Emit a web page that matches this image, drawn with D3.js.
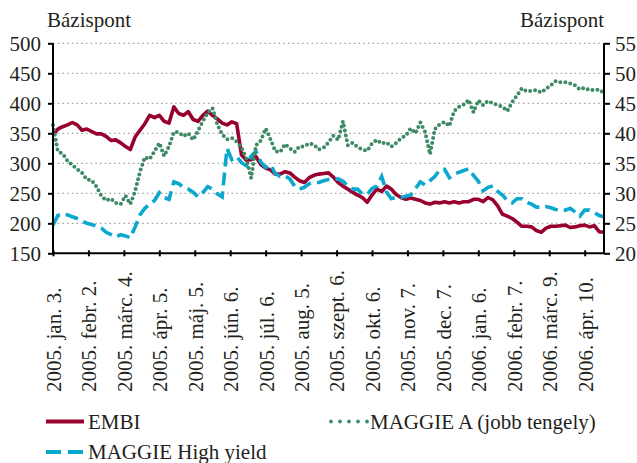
<!DOCTYPE html>
<html>
<head>
<meta charset="utf-8">
<script src="https://cdn.jsdelivr.net/npm/d3@7"></script>
<style>
body { margin: 0; background: #fff; }
svg { font-family: "Liberation Serif", "Times New Roman", serif; }
</style>
</head>
<body>
<div id="chart"></div>
<script>
var w = 637, h = 463;

// tick labels, one every 22 trading days
var tickLabels = ["2005. jan. 3.", "2005. febr. 2.", "2005. márc. 4.", "2005. ápr. 5.",
    "2005. máj. 5.", "2005. jún. 6.", "2005. júl. 6.", "2005. aug. 5.", "2005. szept. 6.",
    "2005. okt. 6.", "2005. nov. 7.", "2005. dec. 7.", "2006. jan. 6.", "2006. febr. 7.",
    "2006. márc. 9.", "2006. ápr. 10."];
var tickEvery = 22;
var lastDay = 342;
var step = 3; // values below are read every 3rd trading day

// EMBI, bázispont (left axis)
var embi = [347, 357, 361, 364, 368, 364, 355, 357, 353, 349,
    349, 345, 338, 339, 334, 328, 323, 344, 355, 366,
    380, 376, 380, 370, 367, 394, 383, 380, 386, 373,
    370, 380, 387, 380, 374, 367, 364, 369, 366, 314,
    305, 306, 311, 298, 292, 289, 282, 282, 286, 284,
    277, 271, 268, 276, 280, 282, 283, 284, 277, 268,
    262, 257, 252, 247, 243, 235, 247, 257, 253, 262,
    257, 248, 243, 240, 242, 240, 238, 234, 232, 235,
    234, 236, 234, 236, 234, 236, 236, 240, 240, 236,
    243, 239, 229, 215, 212, 208, 202, 195, 195, 194,
    188, 185, 192, 195, 195, 196, 197, 193, 194, 196,
    197, 194, 196, 186, 185];

// MAGGIE High yield, bázispont (left axis)
var maggieHY = [197, 213, 216, 214, 211, 208, 204, 200, 198, 195,
    192, 185, 181, 177, 181, 179, 176, 194, 214, 225,
    232, 238, 251, 243, 240, 269, 266, 260, 257, 252,
    244, 251, 261, 257, 249, 244, 325, 306, 311, 301,
    296, 312, 320, 302, 293, 298, 283, 278, 279, 274,
    262, 257, 260, 266, 268, 268, 271, 273, 273, 274,
    270, 262, 257, 257, 249, 248, 258, 262, 278, 252,
    241, 243, 243, 245, 247, 258, 269, 264, 271, 278,
    289, 290, 276, 282, 285, 288, 291, 280, 270, 254,
    260, 262, 253, 247, 238, 234, 241, 241, 235, 232,
    227, 227, 228, 226, 223, 222, 222, 225, 219, 212,
    222, 222, 218, 213, 211];

// MAGGIE A, bázispont (right axis)
var maggieA = [41.4, 37.0, 36.6, 35.4, 34.7, 34.0, 33.4, 32.3, 32.2, 31.1,
    29.6, 28.8, 29.1, 28.4, 28.2, 29.6, 28.2, 30.4, 33.6, 36.0,
    35.7, 37.0, 38.4, 36.2, 37.8, 40.2, 40.2, 39.5, 40.0, 38.9,
    40.4, 42.0, 43.4, 44.2, 41.5, 39.8, 39.0, 39.2, 38.6, 37.6,
    35.8, 32.5, 38.0, 38.8, 40.8, 39.0, 37.0, 36.9, 38.2, 37.5,
    36.9, 37.8, 37.8, 38.3, 38.1, 37.3, 37.6, 38.5, 39.6, 38.9,
    42.0, 38.0, 38.4, 37.7, 37.3, 37.1, 38.3, 38.9, 38.3, 38.5,
    37.8, 38.4, 39.2, 39.6, 40.8, 40.0, 41.8, 40.2, 36.5, 40.7,
    41.5, 41.9, 41.2, 43.7, 44.4, 44.8, 45.6, 43.5, 45.5, 44.7,
    45.4, 45.0, 44.7, 44.4, 43.7, 45.2, 46.3, 47.5, 47.0, 47.1,
    47.2, 46.8, 47.4, 48.0, 48.7, 48.5, 48.5, 48.3, 48.0, 47.3,
    47.6, 47.2, 47.2, 47.3, 46.7];

var leftTicks = [150, 200, 250, 300, 350, 400, 450, 500];
var rightTicks = [20, 25, 30, 35, 40, 45, 50, 55];

var plotL = 53, plotR = 604, plotT = 43.3, plotB = 253.3;
var textColor = "#231f20";

var svg = d3.select("#chart").append("svg")
    .attr("width", w)
    .attr("height", h);

var xScale = d3.scaleLinear().domain([0, lastDay]).range([plotL, plotR]);
var yLeft = d3.scaleLinear().domain([150, 500]).range([plotB, plotT]);
var yRight = d3.scaleLinear().domain([20, 55]).range([plotB, plotT]);

// dotted grid
svg.append("g")
    .selectAll("line")
    .data(leftTicks.slice(1))
    .enter()
    .append("line")
    .attr("x1", plotL)
    .attr("x2", plotR)
    .attr("y1", function(d) { return yLeft(d); })
    .attr("y2", function(d) { return yLeft(d); })
    .attr("stroke", "#8a8a8a")
    .attr("stroke-width", 1)
    .attr("stroke-dasharray", "1.5,3.2");

// series
function seriesLine(scale) {
    return d3.line()
        .x(function(d, i) { return xScale(i * step); })
        .y(function(d) { return scale(d); });
}

svg.append("path")
    .datum(embi)
    .attr("fill", "none")
    .attr("stroke", "#98002e")
    .attr("stroke-width", 3.6)
    .attr("stroke-linejoin", "round")
    .attr("d", seriesLine(yLeft));

svg.append("path")
    .datum(maggieHY)
    .attr("fill", "none")
    .attr("stroke", "#0aa8cf")
    .attr("stroke-width", 3.6)
    .attr("stroke-dasharray", "13,6")
    .attr("d", seriesLine(yLeft));

svg.append("path")
    .datum(maggieA)
    .attr("fill", "none")
    .attr("stroke", "#3f8a66")
    .attr("stroke-width", 4)
    .attr("stroke-linecap", "round")
    .attr("stroke-dasharray", "0,5")
    .attr("d", seriesLine(yRight));

// left axis
var leftAxis = svg.append("g")
    .attr("transform", "translate(" + plotL + ",0)")
    .call(d3.axisLeft(yLeft).tickValues(leftTicks).tickSize(5).tickPadding(7));

// right axis
var rightAxis = svg.append("g")
    .attr("transform", "translate(" + plotR + ",0)")
    .call(d3.axisRight(yRight).tickValues(rightTicks).tickSize(6).tickPadding(5));

// bottom axis
var tickDays = tickLabels.map(function(d, i) { return i * tickEvery; });
var bottomAxis = svg.append("g")
    .attr("transform", "translate(0," + plotB + ")")
    .call(d3.axisBottom(xScale)
        .tickValues(tickDays)
        .tickSize(3)
        .tickFormat(function(d, i) { return tickLabels[i]; }));

bottomAxis.selectAll(".tick line").attr("y1", -3).attr("y2", 3);
bottomAxis.selectAll(".tick text")
    .attr("transform", "rotate(-90)")
    .attr("x", -(392 - plotB))
    .attr("y", 0)
    .attr("dy", "0.35em")
    .attr("text-anchor", "start");

[leftAxis, rightAxis, bottomAxis].forEach(function(ax) {
    ax.select(".domain").attr("stroke", "#000").attr("stroke-width", 2);
    ax.selectAll(".tick line").attr("stroke", "#000").attr("stroke-width", 2);
    ax.selectAll("text")
        .attr("fill", textColor)
        .style("font-size", "21px")
        .style("font-family", "'Liberation Serif', serif");
});
leftAxis.select(".domain").attr("d", "M0," + plotB + "V" + plotT);
rightAxis.select(".domain").attr("d", "M0," + plotB + "V" + plotT);
bottomAxis.select(".domain").attr("d", "M" + plotL + ",0H" + plotR);

// unit labels
svg.append("text")
    .attr("x", 47)
    .attr("y", 27)
    .attr("fill", textColor)
    .style("font-size", "21px")
    .text("Bázispont");

svg.append("text")
    .attr("x", 604)
    .attr("y", 27)
    .attr("text-anchor", "end")
    .attr("fill", textColor)
    .style("font-size", "21px")
    .text("Bázispont");

// legend
var legend = svg.append("g");

legend.append("line")
    .attr("x1", 46).attr("x2", 84)
    .attr("y1", 421.5).attr("y2", 421.5)
    .attr("stroke", "#98002e")
    .attr("stroke-width", 4);

legend.append("line")
    .attr("x1", 46).attr("x2", 84)
    .attr("y1", 452).attr("y2", 452)
    .attr("stroke", "#0aa8cf")
    .attr("stroke-width", 4)
    .attr("stroke-dasharray", "15,7");

legend.append("line")
    .attr("x1", 331).attr("x2", 368)
    .attr("y1", 421.5).attr("y2", 421.5)
    .attr("stroke", "#3f8a66")
    .attr("stroke-width", 3.8)
    .attr("stroke-linecap", "round")
    .attr("stroke-dasharray", "0,9");

var legendItems = [
    { text: "EMBI", x: 88, y: 421.5 },
    { text: "MAGGIE A (jobb tengely)", x: 370, y: 421.5 },
    { text: "MAGGIE High yield", x: 88, y: 452 }
];

legend.selectAll("text.item")
    .data(legendItems)
    .enter()
    .append("text")
    .attr("class", "item")
    .attr("x", function(d) { return d.x; })
    .attr("y", function(d) { return d.y; })
    .attr("dy", "0.35em")
    .attr("fill", textColor)
    .style("font-size", "21px")
    .text(function(d) { return d.text; });
</script>
</body>
</html>
